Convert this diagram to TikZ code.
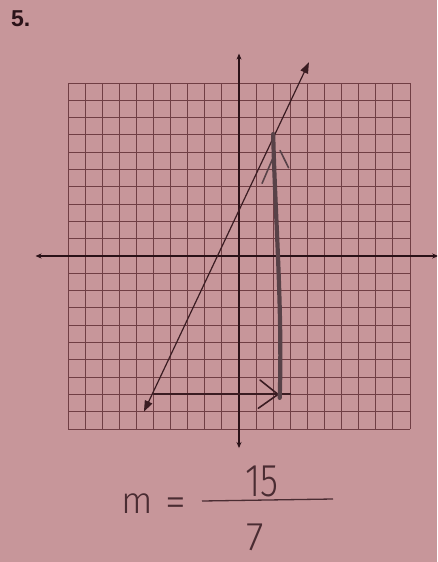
\documentclass[tikz,border=0pt]{standalone}
\usepackage{fontspec}
\setmainfont{Liberation Sans}
\newfontfamily\hand{Fira Sans Light}
\usetikzlibrary{arrows.meta}
\definecolor{paper}{RGB}{199,150,154}
\definecolor{gridc}{RGB}{112,62,68}
\definecolor{axisc}{RGB}{42,18,24}
\definecolor{penc}{RGB}{58,28,34}
\definecolor{pencilc}{RGB}{88,66,72}
\definecolor{inkc}{RGB}{74,44,50}
\tikzset{
  gridline/.style={draw=gridc, line width=0.9pt},
  axisline/.style={draw=axisc, line width=2.2pt, {Stealth[length=6pt,width=5pt]}-{Stealth[length=6pt,width=5pt]}},
  penline/.style={draw=penc, line width=1.2pt, {Triangle[length=11pt,width=8pt]}-{Triangle[length=11pt,width=8pt]}},
  penstroke/.style={draw=penc, line width=1.6pt, line cap=round},
  pencilstroke/.style={draw=pencilc, line width=4.2pt, line cap=round},
  pencilthin/.style={draw=pencilc, line width=1.6pt, line cap=round},
  handtext/.style={text=inkc, inner sep=0pt, font=\hand},
}
\begin{document}
\begin{tikzpicture}[x=1pt,y=-1pt]
\fill[paper] (0,0) rectangle (437,562);
\useasboundingbox (0,0) rectangle (437,562);
\clip (0,0) rectangle (437,562);
\node[anchor=base west, inner sep=0pt, text=axisc, font=\bfseries\fontsize{23}{27}\selectfont] (num) at (11,27) {5.};
\begin{scope}[shift={(239,256)}, x=17.1pt, y=17.3pt]
  \draw[gridline, step=1] (-10,-10) grid (10,10);
  \coordinate (xl) at (-11.9,0); \coordinate (xr) at (11.65,0);
  \coordinate (yb) at (0,-11.1); \coordinate (yt) at (0,11.7);
  \draw[axisline] (xl) -- (xr);
  \draw[axisline] (yb) -- (yt);
  % sloped line
  \coordinate (L1) at (-5.56,-9.0);
  \coordinate (L2) at (4.09,11.2);
  \draw[penline] (L1) -- (L2);
  % run arrow (pen)
  \coordinate (H0) at (-5.0,-7.98);
  \coordinate (H1) at (3.0,-7.98);
  \coordinate (Ht) at (2.28,-8.0);
  \coordinate (Hu) at (1.23,-7.17);
  \coordinate (Hd) at (1.13,-8.8);
  \draw[penstroke] (H0) -- (H1);
  \draw[penstroke] (Hu) -- (Ht) -- (Hd);
  % rise arrow (pencil)
  \coordinate (V0) at (2.38,-8.2);
  \coordinate (V1) at (2.0,7.05);
  \draw[pencilstroke] (V0) .. controls (2.55,-3) and (2.1,2.5) .. (V1);
  \coordinate (Va) at (1.35,4.2); \coordinate (Vb) at (2.0,5.7);
  \coordinate (Vc) at (2.9,5.1); \coordinate (Vd) at (2.4,6.1);
  \draw[pencilthin] (Va) -- (Vb);
  \draw[pencilthin] (Vc) -- (Vd);
\end{scope}
% handwritten slope
\node[handtext, anchor=base, font=\hand\fontsize{37}{40}\selectfont] (m) at (137,513) {m};
\node[handtext, anchor=base, font=\hand\fontsize{42}{46}\selectfont] (eq) at (176,516) {=};
\coordinate (b0) at (202,501); \coordinate (b1) at (333,499);
\draw[draw=inkc, line width=1.3pt] (b0) -- (b1);
\node[handtext, anchor=base, xscale=0.8, font=\hand\fontsize{46}{50}\selectfont] (num15) at (262,496) {15};
\node[handtext, anchor=base, font=\hand\fontsize{40}{44}\selectfont] (den7) at (255,550) {7};
\end{tikzpicture}
\end{document}
